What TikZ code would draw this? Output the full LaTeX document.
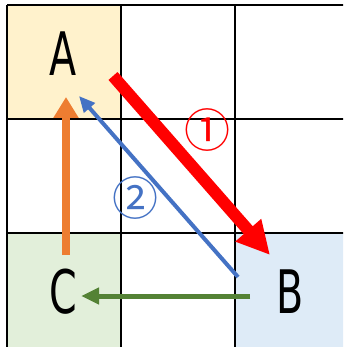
\documentclass[tikz,border=0pt]{standalone}
\usepackage{fontspec}
\usepackage{tikz}
\usetikzlibrary{arrows.meta}
\newfontfamily\letterfont[FakeStretch=0.66]{DejaVu Sans}
\newfontfamily\circlefont{Noto Sans CJK JP}
\definecolor{cellA}{HTML}{FFF2CC}
\definecolor{cellB}{HTML}{DEEBF7}
\definecolor{cellC}{HTML}{E2EFDA}
\definecolor{arrowOrange}{HTML}{ED7D31}
\definecolor{arrowBlue}{HTML}{4472C4}
\definecolor{arrowGreen}{HTML}{548235}
\tikzset{
  letter/.style={font=\letterfont\fontsize{60}{60}\selectfont},
  circled/.style={font=\circlefont\fontsize{46}{46}\selectfont}
}
\begin{document}
\begin{tikzpicture}[x=1pt, y=-1pt]
\useasboundingbox (0,0) rectangle (343,347);
\clip (0,0) rectangle (343,347);
\fill[cellA] (7,5) rectangle (121,119);
\fill[cellB] (235,233) rectangle (349,347);
\fill[cellC] (7,233) rectangle (121,347);
\foreach \x in {7,121,235} \draw[line width=2pt] (\x,5) -- (\x,350);
\foreach \y in {5,119,233} \draw[line width=2pt] (7,\y) -- (350,\y);
\node[letter] (A) at (63,54) {A};
\node[letter] (B) at (290,292) {B};
\node[letter] (C) at (63,292) {C};
\coordinate (redS) at (113,76);
\coordinate (redE) at (270,255);
\coordinate (blueS) at (238,277);
\coordinate (blueE) at (79,96);
\coordinate (orangeS) at (66,255);
\coordinate (orangeE) at (66,97);
\coordinate (greenS) at (250,296);
\coordinate (greenE) at (81,296);
\draw[red, line width=12pt, -{Triangle[length=33pt,width=32pt]}] (redS) -- (redE);
\draw[arrowBlue, line width=4pt, -{Triangle[length=16pt,width=14pt]}] (blueS) -- (blueE);
\draw[arrowOrange, line width=8pt, -{Triangle[length=21pt,width=24pt]}] (orangeS) -- (orangeE);
\draw[arrowGreen, line width=5pt, -{Triangle[length=18pt,width=16pt]}] (greenS) -- (greenE);
\node[circled, red] (one) at (207,130) {①};
\node[circled, arrowBlue] (two) at (135,198) {②};
\end{tikzpicture}
\end{document}
